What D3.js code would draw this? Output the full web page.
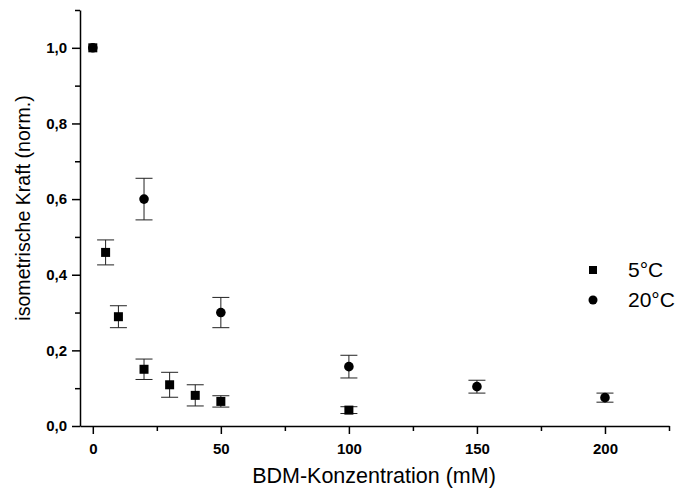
<!DOCTYPE html>
<html>
<head>
<meta charset="utf-8">
<script src="https://cdn.jsdelivr.net/npm/d3@7"></script>
<style>
  body { margin: 0; background: #fff; }
  text { font-family: "Liberation Sans", Arial, sans-serif; }
</style>
</head>
<body>
<div id="wrapper"></div>
<script>
// BDM concentrations (mM) and normalised force
const conc5 = [0, 5, 10, 20, 30, 40, 50, 100];
const force5 = [1.0, 0.459, 0.289, 0.150, 0.109, 0.081, 0.065, 0.042];
const err5 = [0.0, 0.033, 0.029, 0.027, 0.033, 0.028, 0.015, 0.009];

const conc20 = [0, 20, 50, 100, 150, 200];
const force20 = [1.0, 0.600, 0.300, 0.157, 0.104, 0.075];
const err20 = [0.0, 0.055, 0.040, 0.030, 0.017, 0.012];

const xTicks = [0, 50, 100, 150, 200];
const xMinor = [25, 75, 125, 175, 225];
const yTicks = [0, 0.2, 0.4, 0.6, 0.8, 1.0];
const yMinor = [0.1, 0.3, 0.5, 0.7, 0.9, 1.1];

const seriesNames = ["5°C", "20°C"];

const width = 677, height = 491;
const margin = {left: 80, right: 8, top: 10, bottom: 65};

const svg = d3.select("#wrapper").append("svg")
    .attr("width", width)
    .attr("height", height);

const x = d3.scaleLinear().domain([-5, 225]).range([margin.left, width - margin.right]);
const y = d3.scaleLinear().domain([0, 1.1]).range([height - margin.bottom, margin.top]);

const fmt = d => d3.format(".1f")(d).replace(".", ",");

// axes
svg.append("g")
    .attr("transform", `translate(0,${y(0)})`)
    .call(d3.axisBottom(x).tickValues(xTicks).tickSize(8).tickPadding(9).tickSizeOuter(0));
svg.append("g")
    .attr("transform", `translate(0,${y(0)})`)
    .call(d3.axisBottom(x).tickValues(xMinor).tickSize(5).tickFormat("").tickSizeOuter(0))
    .select(".domain").remove();

svg.append("g")
    .attr("transform", `translate(${x(-5)},0)`)
    .call(d3.axisLeft(y).tickValues(yTicks).tickSize(8).tickPadding(5).tickFormat(fmt).tickSizeOuter(0));
svg.append("g")
    .attr("transform", `translate(${x(-5)},0)`)
    .call(d3.axisLeft(y).tickValues(yMinor).tickSize(5).tickFormat("").tickSizeOuter(0))
    .select(".domain").remove();

svg.selectAll(".domain, .tick line").attr("stroke", "#000").attr("stroke-width", 1.5);
svg.selectAll(".tick text")
    .attr("font-family", "Liberation Sans, Arial, sans-serif")
    .attr("font-size", 15)
    .attr("font-weight", "bold")
    .attr("fill", "#000");

// axis titles
svg.append("text")
    .attr("x", 374)
    .attr("y", 483)
    .attr("text-anchor", "middle")
    .attr("font-size", 21.5)
    .text("BDM-Konzentration (mM)");

svg.append("text")
    .attr("transform", `translate(30,208) rotate(-90)`)
    .attr("text-anchor", "middle")
    .attr("font-size", 19.6)
    .text("isometrische Kraft (norm.)");

// error bars
function errorBars(xs, ys, es) {
    const g = svg.append("g").attr("stroke", "#222").attr("stroke-width", 1);
    xs.forEach((c, i) => {
        if (es[i] <= 0) return;
        const cx = x(c), top = y(ys[i] + es[i]), bot = y(ys[i] - es[i]);
        g.append("line").attr("x1", cx).attr("x2", cx).attr("y1", top).attr("y2", bot);
        g.append("line").attr("x1", cx - 8.5).attr("x2", cx + 8.5).attr("y1", top).attr("y2", top);
        g.append("line").attr("x1", cx - 8.5).attr("x2", cx + 8.5).attr("y1", bot).attr("y2", bot);
    });
}
errorBars(conc20, force20, err20);
errorBars(conc5, force5, err5);

// 20°C circles
svg.append("g").selectAll("circle")
    .data(conc20)
    .join("circle")
    .attr("cx", d => x(d))
    .attr("cy", (d, i) => y(force20[i]))
    .attr("r", 4.8)
    .attr("fill", "#000");

// 5°C squares
const sq = 9;
svg.append("g").selectAll("rect")
    .data(conc5)
    .join("rect")
    .attr("x", d => x(d) - sq / 2)
    .attr("y", (d, i) => y(force5[i]) - sq / 2)
    .attr("width", sq)
    .attr("height", sq)
    .attr("fill", "#000");

// legend
const legend = svg.append("g");
legend.append("rect")
    .attr("x", 589).attr("y", 266).attr("width", 8).attr("height", 8).attr("fill", "#000");
legend.append("circle")
    .attr("cx", 593).attr("cy", 300).attr("r", 4.5).attr("fill", "#000");
legend.selectAll("text.lbl")
    .data(seriesNames)
    .join("text")
    .attr("class", "lbl")
    .attr("x", 628)
    .attr("y", (d, i) => 277 + i * 30)
    .attr("font-size", 21)
    .text(d => d);
</script>
</body>
</html>
